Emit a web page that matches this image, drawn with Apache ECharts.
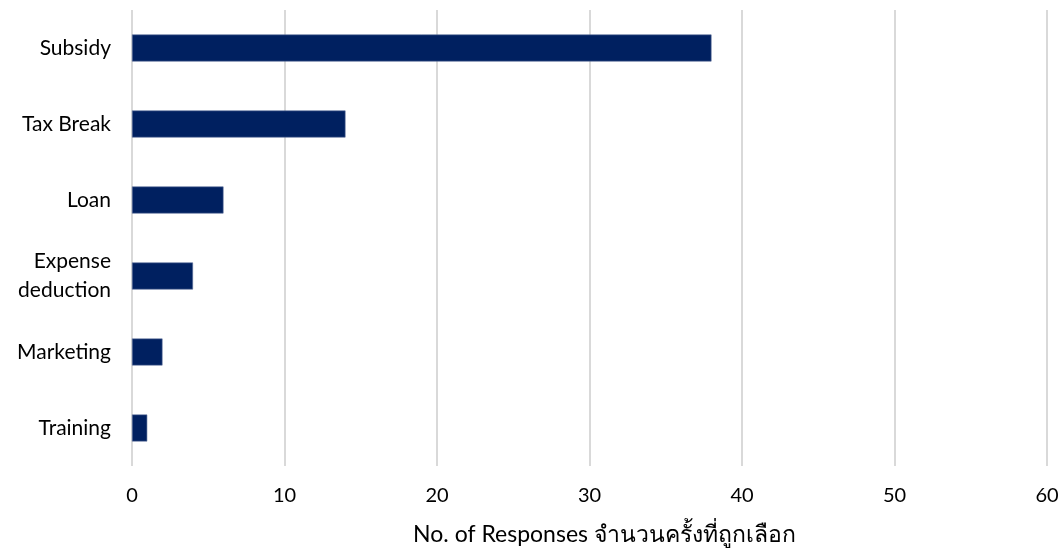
<!DOCTYPE html>
<html>
<head>
<meta charset="utf-8">
<script src="https://cdn.jsdelivr.net/npm/echarts@6/dist/echarts.min.js"></script>
<style>
  html, body { margin: 0; padding: 0; background: #fff; }
  #chart { width: 1062px; height: 551px; }
</style>
</head>
<body>
<div id="chart"></div>
<script>
// ประเภทการสนับสนุน, listed bottom to top for the category axis
const categories = ['Training', 'Marketing', 'Expense\ndeduction', 'Loan', 'Tax Break', 'Subsidy'];
const responses = [1, 2, 4, 6, 14, 38];
const xTicks = [0, 10, 20, 30, 40, 50, 60];

const font = 'Lato, "Noto Sans", "DejaVu Sans", sans-serif';

const chart = echarts.init(document.getElementById('chart'));
chart.setOption({
    animation: false,
    grid: { left: 132, right: 15, top: 10, bottom: 84 },
    xAxis: {
        type: 'value',
        min: xTicks[0],
        max: xTicks[xTicks.length - 1],
        interval: 10,
        name: 'No. of Responses จำนวนครั้งที่ถูกเลือก',
        nameLocation: 'middle',
        nameGap: 57,
        nameTextStyle: { color: '#000', fontSize: 23, fontFamily: font, padding: [0, 0, 0, 30] },
        axisLine: { show: false },
        axisTick: { show: false },
        axisLabel: { color: '#000', fontSize: 20, fontFamily: font, margin: 20 },
        splitLine: { lineStyle: { color: '#d9d9d9', width: 2 } }
    },
    yAxis: {
        type: 'category',
        data: categories,
        axisLine: { show: false },
        axisTick: { show: false },
        axisLabel: { color: '#000', fontSize: 21, fontFamily: font, margin: 21, lineHeight: 29 }
    },
    series: [{
        type: 'bar',
        data: responses,
        barWidth: 27,
        itemStyle: { color: '#002060', borderColor: '#5a6f9a', borderWidth: 0.6 }
    }]
});
</script>
</body>
</html>
